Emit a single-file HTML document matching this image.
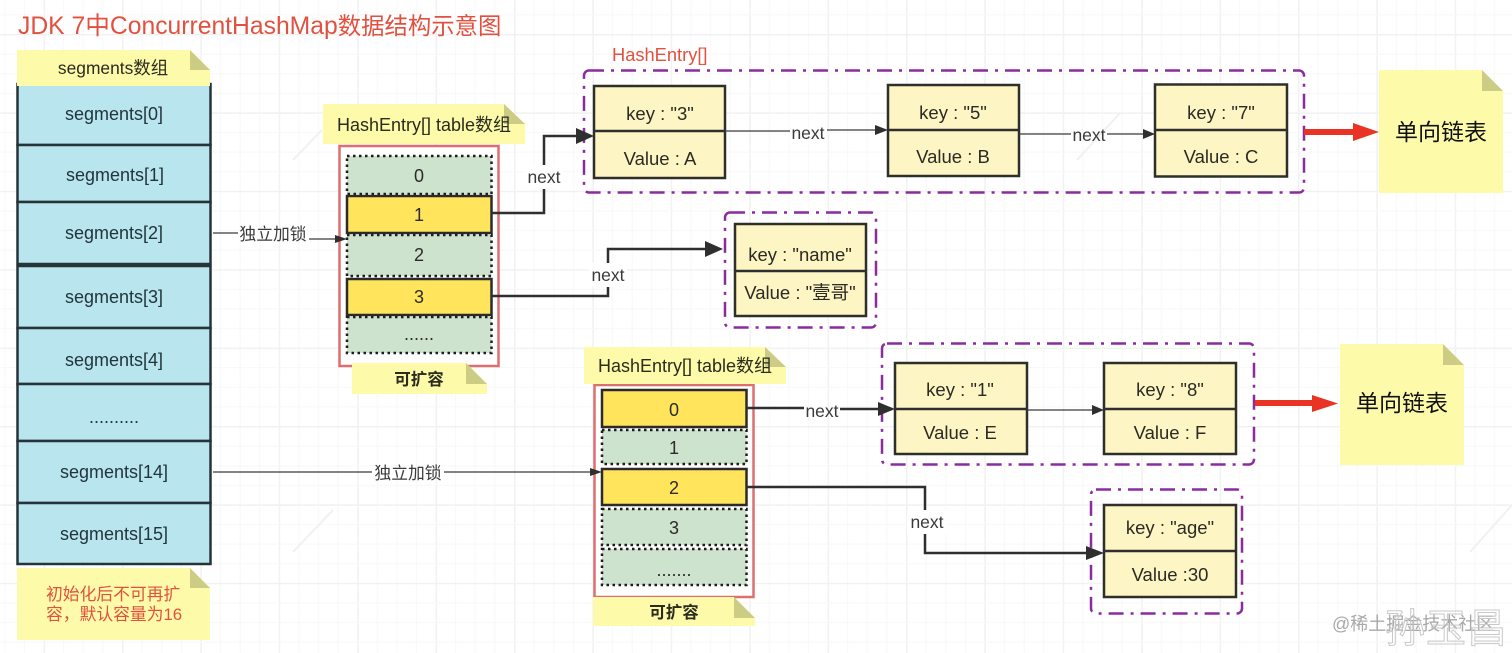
<!DOCTYPE html>
<html><head><meta charset="utf-8"><style>
html,body{margin:0;padding:0;background:#fff;width:1512px;height:653px;overflow:hidden}
svg{display:block}
text{font-family:"Liberation Sans","Noto Sans CJK SC",sans-serif;fill:#2b2b2b}
.m{text-anchor:middle;font-size:18px}
.s{text-anchor:middle;font-size:18px;fill:#22343c}
.k{text-anchor:middle;font-size:18.5px;fill:#2b2b24}
.l{text-anchor:middle;font-size:17.5px;fill:#3a3a3a}
.seg{fill:#b9e6ee;stroke:#26343a;stroke-width:2.5}
.dot{fill:#cde3cd;stroke:#1c1c1c;stroke-width:2.5;stroke-dasharray:2.5 3.5}
.yel{fill:#ffe45c;stroke:#2b2b2b;stroke-width:2.5}
.pink{fill:#fff;stroke:#dc6f6f;stroke-width:2.5}
.pur{fill:none;stroke:#8a2ca0;stroke-width:2.5;stroke-dasharray:15 7 3 7}
.box{fill:#fdf5c3;stroke:#2f2f2a;stroke-width:2.5}
.note{fill:#fdfbaa}
.fold{fill:#cdcc85}
.c{fill:none;stroke:#2f2f2f;stroke-width:2.5}
.t{fill:none;stroke:#3a3a3a;stroke-width:1.2}
.h{fill:#2f2f2f}
.bg{fill:#fff}
.wm{fill:none;stroke:#f1f1f1;stroke-width:2}
</style></head><body>
<svg width="1512" height="653" viewBox="0 0 1512 653" xmlns="http://www.w3.org/2000/svg">
<defs>
<pattern id="gx" width="78.4" height="653" patternUnits="userSpaceOnUse" x="43.6" y="0">
<rect x="0" y="0" width="1.4" height="653" fill="#f1f1f1"/>
<rect x="19.6" y="0" width="1" height="653" fill="#f8f8f8"/>
<rect x="39.2" y="0" width="1" height="653" fill="#f8f8f8"/>
<rect x="58.8" y="0" width="1" height="653" fill="#f8f8f8"/>
</pattern>
<pattern id="gy" width="1512" height="78.4" patternUnits="userSpaceOnUse" x="0" y="34">
<rect x="0" y="0" width="1512" height="1.4" fill="#f1f1f1"/>
<rect x="0" y="19.6" width="1512" height="1" fill="#f8f8f8"/>
<rect x="0" y="39.2" width="1512" height="1" fill="#f8f8f8"/>
<rect x="0" y="58.8" width="1512" height="1" fill="#f8f8f8"/>
</pattern>
</defs>
<rect width="1512" height="653" fill="#fff"/>
<rect width="1512" height="653" fill="url(#gx)"/>
<rect width="1512" height="653" fill="url(#gy)"/>
<path class="wm" d="M293 552L333 510M293 160L322 130M1077 160L1120 113M1470 552L1512 505"/>

<text x="18" y="34" style="font-size:24.700px;fill:#e2513f">JDK 7中ConcurrentHashMap<tspan style="font-size:23.400px;fill:#e2513f">数据结构示意图</tspan></text>

<!-- segments -->
<rect class="seg" x="17.5" y="84" width="193" height="61"/>
<rect class="seg" x="17.5" y="145" width="193" height="57"/>
<rect class="seg" x="17.5" y="202" width="193" height="62"/>
<rect class="seg" x="17.5" y="266" width="193" height="62"/>
<rect class="seg" x="17.5" y="328" width="193" height="56"/>
<rect class="seg" x="17.5" y="384" width="193" height="57"/>
<rect class="seg" x="17.5" y="441" width="193" height="62"/>
<rect class="seg" x="17.5" y="503" width="193" height="61"/>
<text class="s" x="114" y="120">segments[0]</text>
<text class="s" x="115" y="181">segments[1]</text>
<text class="s" x="114" y="239">segments[2]</text>
<text class="s" x="114" y="303">segments[3]</text>
<text class="s" x="114" y="366">segments[4]</text>
<text class="s" x="114" y="423">..........</text>
<text class="s" x="114" y="478">segments[14]</text>
<text class="s" x="114" y="540">segments[15]</text>

<!-- notes on segments -->
<path class="note" d="M17 50H190L210 70V86H17Z"/><path class="fold" d="M190 50L210 70H190Z"/>
<text class="s" x="113" y="74" style="fill:#2b2b1e;font-size:17.400px">segments数组</text>
<path class="note" d="M17 568H190L210 588V640H17Z"/><path class="fold" d="M190 568L210 588H190Z"/>
<text x="46" y="600" style="font-size:16.800px;fill:#e2513f">初始化后不可再扩</text>
<text x="46" y="620" style="font-size:16.800px;fill:#e2513f">容，默认容量为16</text>

<!-- table 1 -->
<rect class="pink" x="339.5" y="146" width="159" height="220"/>
<path class="note" d="M323 104H504L525 124V144H323Z"/><path class="fold" d="M504 104L525 124H504Z"/>
<text class="l" x="424" y="131" style="fill:#2b2b1e;font-size:18px">HashEntry[] table数组</text>
<rect class="dot" x="347" y="156" width="144.500" height="38"/>
<rect class="dot" x="347" y="235" width="144.500" height="41"/>
<rect class="dot" x="347" y="317" width="144.500" height="36"/>
<rect class="yel" x="347" y="196" width="144.500" height="37"/>
<rect class="yel" x="347" y="279" width="144.500" height="36"/>
<text class="m" x="419" y="182">0</text>
<text class="m" x="419" y="221">1</text>
<text class="m" x="419" y="261">2</text>
<text class="m" x="419" y="303">3</text>
<text class="m" x="419" y="340">......</text>
<path class="note" d="M352 363H466L487 384V394H352Z"/><path class="fold" d="M466 363L487 384H466Z"/>
<text class="l" x="419" y="385" style="font-weight:bold;font-size:16.500px;fill:#2b2b1e">可扩容</text>

<!-- table 2 -->
<rect class="pink" x="594.500" y="385" width="159" height="212"/>
<path class="note" d="M584 347H765L786 367V384H584Z"/><path class="fold" d="M765 347L786 367H765Z"/>
<text class="l" x="685" y="372" style="fill:#2b2b1e;font-size:18px">HashEntry[] table数组</text>
<rect class="dot" x="602" y="430" width="144.500" height="34"/>
<rect class="dot" x="602" y="509" width="144.500" height="36"/>
<rect class="dot" x="602" y="549" width="144.500" height="36"/>
<rect class="yel" x="602" y="390" width="144.500" height="37"/>
<rect class="yel" x="602" y="469" width="144.500" height="36"/>
<text class="m" x="674" y="416">0</text>
<text class="m" x="674" y="454">1</text>
<text class="m" x="674" y="494">2</text>
<text class="m" x="674" y="534">3</text>
<text class="m" x="674" y="576">.......</text>
<path class="note" d="M593 597H734L755 618V626H593Z"/><path class="fold" d="M734 597L755 618H734Z"/>
<text class="l" x="674" y="618" style="font-weight:bold;font-size:16.500px;fill:#2b2b1e">可扩容</text>

<!-- purple groups -->
<rect class="pur" x="584" y="70.500" width="720" height="122" rx="5"/>
<rect class="pur" x="725" y="212.500" width="151" height="115" rx="5"/>
<rect class="pur" x="882" y="343.500" width="372" height="121" rx="5"/>
<rect class="pur" x="1091" y="489.500" width="151" height="124" rx="5"/>
<text x="612" y="61" style="font-size:18.300px;fill:#e2513f">HashEntry[]</text>

<!-- boxes -->
<rect class="box" x="594" y="86" width="131" height="92"/><path class="c" d="M594 131H725"/>
<rect class="box" x="888" y="85" width="131" height="91"/><path class="c" d="M888 130H1019"/>
<rect class="box" x="1155" y="84.500" width="132" height="92"/><path class="c" d="M1155 130H1287"/>
<rect class="box" x="735" y="224" width="131" height="92"/><path class="c" d="M735 271H866"/>
<rect class="box" x="895" y="363" width="132" height="91"/><path class="c" d="M895 409H1027"/>
<rect class="box" x="1104" y="363" width="132" height="91"/><path class="c" d="M1104 409H1236"/>
<rect class="box" x="1104" y="505" width="132" height="92"/><path class="c" d="M1104 551H1236"/>
<text class="k" x="660" y="120">key : "3"</text><text class="k" x="660" y="165">Value : A</text>
<text class="k" x="953" y="119">key : "5"</text><text class="k" x="953" y="163">Value : B</text>
<text class="k" x="1221" y="119">key : "7"</text><text class="k" x="1221" y="163">Value : C</text>
<text class="k" x="800" y="261">key : "name"</text><text class="k" x="800" y="299">Value : "壹哥"</text>
<text class="k" x="960" y="396">key : "1"</text><text class="k" x="960" y="439">Value : E</text>
<text class="k" x="1170" y="396">key : "8"</text><text class="k" x="1170" y="439">Value : F</text>
<text class="k" x="1170" y="534">key : "age"</text><text class="k" x="1170" y="581">Value :30</text>

<!-- connectors -->
<path class="t" d="M213 233H238M309 239H338"/>
<path class="h" d="M335 235L347 239L335 243Z"/>
<text class="l" x="273" y="240" style="font-size:16.800px">独立加锁</text>
<path class="t" d="M213 472H372M444 472H592"/>
<path class="h" d="M590 468L602 472L590 476Z"/>
<text class="l" x="408" y="479" style="font-size:16.800px">独立加锁</text>

<path class="c" d="M492 213H544V136H578"/>
<path class="h" d="M576 128L594 136L576 144Z"/>
<rect class="bg" x="525" y="165" width="38" height="24"/>
<text class="l" x="544" y="183">next</text>

<path class="c" d="M492 296H608V249H708"/>
<path class="h" d="M705 241L723 249L705 257Z"/>
<rect class="bg" x="589" y="263" width="38" height="24"/>
<text class="l" x="608" y="281">next</text>

<path class="t" d="M725 131H790M827 130H878"/>
<path class="h" d="M875 125L888 130L875 135Z"/>
<text class="l" x="808" y="139">next</text>

<path class="t" d="M1020 134H1071M1107 134H1145"/>
<path class="h" d="M1143 129L1155 134L1143 139Z"/>
<text class="l" x="1089" y="141">next</text>

<path class="c" d="M746 408H804M840 409H880"/>
<path class="h" d="M878 402L895 409L878 416Z"/>
<text class="l" x="822" y="417">next</text>

<path class="t" d="M1027 410H1094"/>
<path class="h" d="M1092 405L1104 410L1092 415Z"/>

<path class="c" d="M746 487H925V553H1088"/>
<path class="h" d="M1086 546L1104 553L1086 560Z"/>
<rect class="bg" x="907" y="510" width="40" height="24"/>
<text class="l" x="927" y="528">next</text>

<!-- single list notes -->
<path class="note" d="M1379 70H1482L1503 91V193H1379Z"/><path class="fold" d="M1482 70L1503 91H1482Z"/>
<text x="1441" y="140" style="text-anchor:middle;font-size:23px;fill:#111">单向链表</text>
<path class="note" d="M1340 344H1443L1464 365V465H1340Z"/><path class="fold" d="M1443 344L1464 365H1443Z"/>
<text x="1402" y="411" style="text-anchor:middle;font-size:23px;fill:#111">单向链表</text>

<!-- red arrows -->
<path fill="#e93325" d="M1304 129H1353V123L1379 132L1353 141V135H1304Z"/>
<path fill="#e93325" d="M1255 400H1312V395L1338 403.500L1312 412V406H1255Z"/>

<!-- watermarks -->
<text x="1332" y="630" style="font-size:18px;fill:#a8a8a8">@稀土掘金技术社区</text>
<text x="1385" y="642" style="font-size:40px;fill:none;stroke:#c9c9c9;stroke-width:1" textLength="122">孙玉昌</text>
</svg>
</body></html>
